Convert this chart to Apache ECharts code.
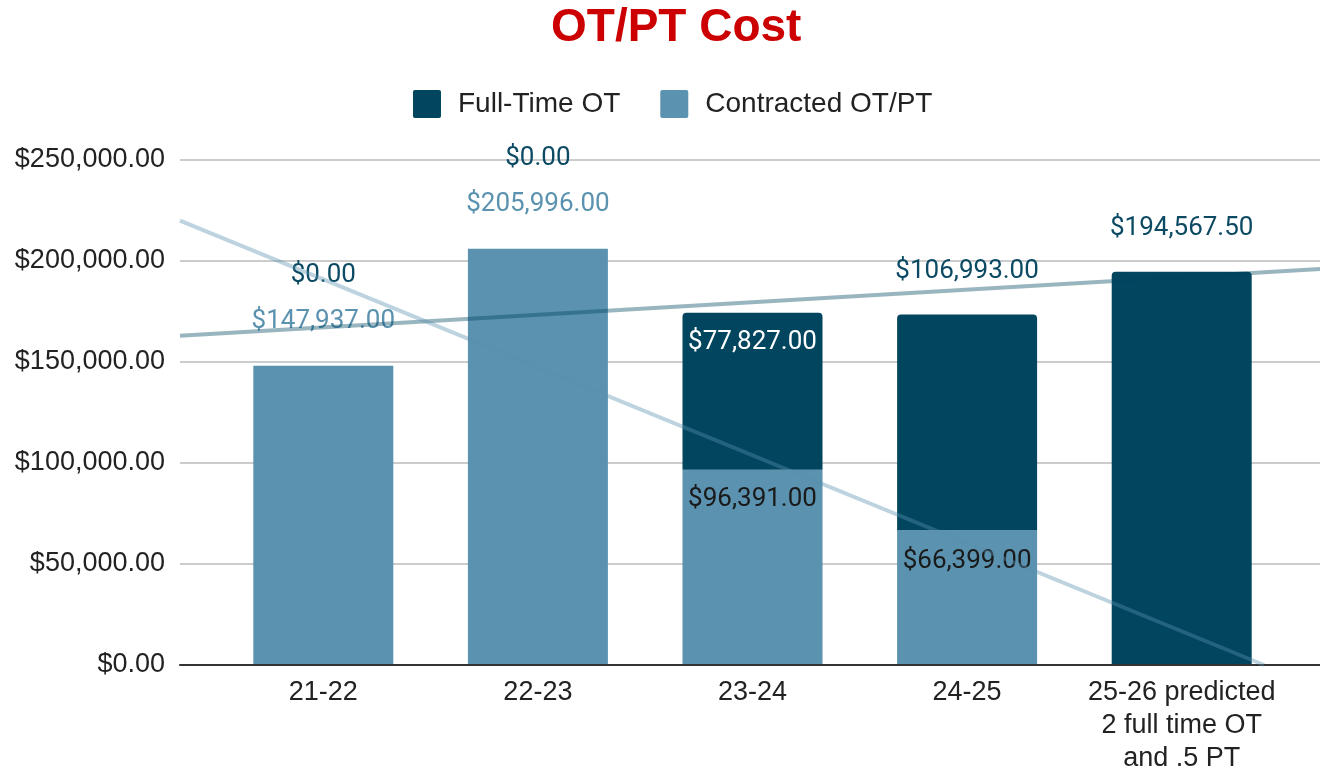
<!DOCTYPE html>
<html>
<head>
<meta charset="utf-8">
<script src="https://cdn.jsdelivr.net/npm/echarts@6/dist/echarts.min.js"></script>
<style>
  html, body { margin: 0; padding: 0; background: #fff; }
  #chart { width: 1320px; height: 775px; }
</style>
</head>
<body>
<div id="chart"></div>
<script>
// 数据
const categories = ['21-22', '22-23', '23-24', '24-25', '25-26 predicted\n2 full time OT\nand .5 PT'];
const fullTimeOT = [0, 0, 77827, 106993, 194567.5];
const contractedOTPT = [147937, 205996, 96391, 66399, 0];
const yTicks = [0, 50000, 100000, 150000, 200000, 250000];

// trendline end points: [x position in category units, value]
const fullTimeTrend = [[-0.67, 163000], [4.63, 196000]];
const contractedTrend = [[-0.67, 220000], [4.37, 0]];

const DARK = '#01455f';
const LIGHT = '#5a92af';
const AXIS_FONT = '"Liberation Sans", Arial, sans-serif';

function money(v) {
    return '$' + Number(v).toLocaleString('en-US', { minimumFractionDigits: 2, maximumFractionDigits: 2 });
}

/* label placement per bar */
function contractedLabel(i) {
    if (i === 4) return { show: false };
    if (i < 2) return { show: true, position: 'top', distance: 31, color: LIGHT };
    return { show: true, position: 'insideTop', distance: i === 2 ? 17 : 18, color: '#1a1a1a' };
}
function fullTimeLabel(i) {
    if (i < 2) return { show: true, position: 'top', distance: 77, color: '#0c4a63' };
    if (i === 2) return { show: true, position: 'insideTop', distance: 17, color: '#ffffff' };
    return { show: true, position: 'top', distance: 30, color: '#0c4a63' };
}

const labelBase = { fontFamily: 'Roboto, sans-serif', fontSize: 26, formatter: p => money(p.value) };

let myChart = echarts.init(document.getElementById('chart'));
let option = {
    animation: false,
    title: {
        text: 'OT/PT Cost',
        left: 546,
        top: 0,
        textStyle: { color: '#cc0000', fontSize: 46, fontWeight: 'bold', fontFamily: AXIS_FONT }
    },
    legend: {
        data: ['Full-Time OT', 'Contracted OT/PT'],
        top: 85,
        left: 408,
        icon: 'path://M2,0 L26,0 Q28,0 28,2 L28,26 Q28,28 26,28 L2,28 Q0,28 0,26 L0,2 Q0,0 2,0 Z',
        itemWidth: 28,
        itemHeight: 28,
        itemGap: 40,
        textStyle: { fontSize: 28, color: '#222', fontFamily: AXIS_FONT, padding: [0, 0, 0, 12] }
    },
    grid: [
        { left: 216, right: 31, top: 160, bottom: 110 },
        { left: 180, right: 0, top: 160, bottom: 110 }
    ],
    xAxis: [
        {
            type: 'category',
            gridIndex: 0,
            data: categories,
            axisLine: { show: false },
            axisTick: { show: false },
            axisLabel: { fontSize: 27, color: '#222', fontFamily: AXIS_FONT, margin: 12, lineHeight: 33, interval: 0 }
        },
        {
            type: 'value',
            gridIndex: 1,
            min: -0.67,
            max: 4.63,
            axisLine: { show: true, lineStyle: { color: '#333', width: 2 } },
            axisTick: { show: false },
            axisLabel: { show: false },
            splitLine: { show: false }
        }
    ],
    yAxis: [
        { type: 'value', gridIndex: 0, min: 0, max: 250000, show: false },
        {
            type: 'value',
            gridIndex: 1,
            min: yTicks[0],
            max: yTicks[yTicks.length - 1],
            interval: 50000,
            axisLine: { show: false },
            axisTick: { show: false },
            axisLabel: { fontSize: 27, color: '#222', fontFamily: AXIS_FONT, margin: 15, formatter: v => money(v) },
            splitLine: { lineStyle: { color: '#cccccc', width: 2 } }
        }
    ],
    series: [
        {
            name: 'Contracted OT/PT',
            type: 'bar',
            stack: 'cost',
            xAxisIndex: 0,
            yAxisIndex: 0,
            barWidth: 140,
            itemStyle: { color: LIGHT },
            data: contractedOTPT.map((v, i) => ({ value: v, label: Object.assign({}, labelBase, contractedLabel(i)) }))
        },
        {
            name: 'Full-Time OT',
            type: 'bar',
            stack: 'cost',
            xAxisIndex: 0,
            yAxisIndex: 0,
            barWidth: 140,
            itemStyle: { color: DARK, borderRadius: [4, 4, 0, 0] },
            data: fullTimeOT.map((v, i) => ({ value: v, label: Object.assign({}, labelBase, fullTimeLabel(i)) }))
        },
        {
            name: 'Full-Time OT trend',
            type: 'line',
            xAxisIndex: 1,
            yAxisIndex: 1,
            symbol: 'none',
            silent: true,
            lineStyle: { color: DARK, width: 4, opacity: 0.4 },
            data: fullTimeTrend
        },
        {
            name: 'Contracted OT/PT trend',
            type: 'line',
            xAxisIndex: 1,
            yAxisIndex: 1,
            symbol: 'none',
            silent: true,
            lineStyle: { color: LIGHT, width: 4, opacity: 0.4 },
            data: contractedTrend
        }
    ]
};
myChart.setOption(option);
</script>
</body>
</html>
